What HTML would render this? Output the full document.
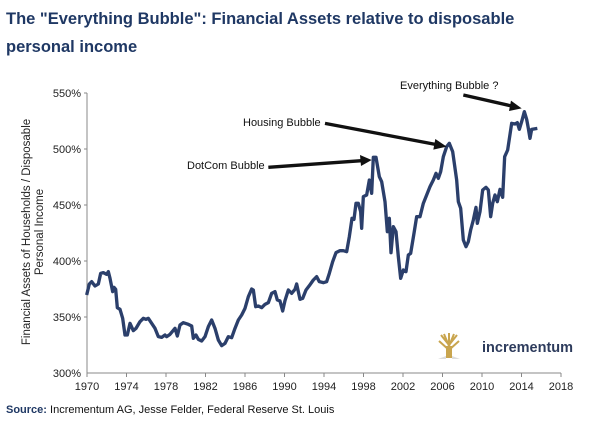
<!DOCTYPE html>
<html><head><meta charset="utf-8"><style>
body{margin:0;background:#fff;width:600px;height:418px;overflow:hidden;font-family:"Liberation Sans",Arial,sans-serif}
</style></head><body>
<svg width="600" height="418" xmlns="http://www.w3.org/2000/svg" font-family="Liberation Sans, Arial, sans-serif">
<text x="6" y="24" font-size="16.5" font-weight="bold" fill="#1f3864">The "Everything Bubble": Financial Assets relative to disposable</text>
<text x="6" y="52" font-size="16.5" font-weight="bold" fill="#1f3864">personal income</text>
<g stroke="#888" stroke-width="1">
<line x1="87" y1="93" x2="87" y2="373"/><line x1="87" y1="373" x2="561" y2="373"/>
<line x1="84" y1="93" x2="87" y2="93"/><line x1="84" y1="149" x2="87" y2="149"/><line x1="84" y1="205" x2="87" y2="205"/><line x1="84" y1="261" x2="87" y2="261"/><line x1="84" y1="317" x2="87" y2="317"/>
<line x1="87" y1="373" x2="87" y2="377"/><line x1="126.5" y1="373" x2="126.5" y2="377"/><line x1="166" y1="373" x2="166" y2="377"/><line x1="205.5" y1="373" x2="205.5" y2="377"/><line x1="245" y1="373" x2="245" y2="377"/><line x1="284.5" y1="373" x2="284.5" y2="377"/><line x1="324" y1="373" x2="324" y2="377"/><line x1="363.5" y1="373" x2="363.5" y2="377"/><line x1="403" y1="373" x2="403" y2="377"/><line x1="442.5" y1="373" x2="442.5" y2="377"/><line x1="482" y1="373" x2="482" y2="377"/><line x1="521.5" y1="373" x2="521.5" y2="377"/><line x1="561" y1="373" x2="561" y2="377"/>
</g>
<g font-size="11" fill="#222" text-anchor="end">
<text x="81" y="97">550%</text><text x="81" y="153">500%</text><text x="81" y="209">450%</text><text x="81" y="265">400%</text><text x="81" y="321">350%</text><text x="81" y="377">300%</text>
</g>
<g font-size="11" fill="#222" text-anchor="middle">
<text x="87" y="390">1970</text><text x="126.5" y="390">1974</text><text x="166" y="390">1978</text><text x="205.5" y="390">1982</text><text x="245" y="390">1986</text><text x="284.5" y="390">1990</text><text x="324" y="390">1994</text><text x="363.5" y="390">1998</text><text x="403" y="390">2002</text><text x="442.5" y="390">2006</text><text x="482" y="390">2010</text><text x="521.5" y="390">2014</text><text x="561" y="390">2018</text>
</g>
<g font-size="11.5" fill="#222" text-anchor="middle" transform="translate(30,232) rotate(-90)">
<text x="0" y="0">Financial Assets of Households / Disposable</text>
<text x="0" y="13">Personal Income</text>
</g>
<g transform="translate(60,80) scale(0.33333)">
<polyline fill="none" stroke="#2b3f6b" stroke-width="10" stroke-linejoin="round" points="80,645 88,612 95,605 105,618 115,612 122,580 130,578 140,583 145,575 150,595 158,635 162,622 167,628 172,683 180,688 188,715 195,765 202,765 210,730 220,752 228,745 240,725 250,715 258,718 265,715 275,730 285,745 295,770 305,772 315,765 320,770 330,763 345,745 352,768 360,735 370,728 385,733 395,738 400,775 408,765 415,778 425,783 435,770 445,740 455,720 465,745 475,780 485,797 495,790 505,770 515,773 525,745 535,720 545,705 555,685 565,650 575,627 580,630 587,680 595,678 605,683 615,673 625,668 635,640 645,635 652,660 660,663 668,693 675,662 685,630 695,640 705,628 710,612 720,658 728,655 738,630 748,617 760,600 770,590 778,605 790,608 800,605 808,580 818,545 828,518 840,512 850,512 860,515 868,470 876,415 882,418 888,370 895,370 902,395 905,445 910,350 920,345 928,300 935,340 940,232 948,232 958,290 965,305 975,365 982,455 988,415 993,518 1000,440 1008,455 1015,530 1022,595 1030,570 1038,575 1045,525 1052,520 1062,460 1070,410 1080,410 1090,370 1100,345 1110,320 1120,300 1128,280 1135,295 1142,275 1150,230 1160,200 1168,190 1178,215 1190,300 1195,365 1202,385 1210,480 1218,500 1225,485 1232,450 1240,420 1248,382 1252,430 1260,395 1268,330 1278,322 1285,330 1292,410 1298,370 1305,345 1312,365 1320,328 1328,352 1334,230 1343,210 1355,130 1365,132 1372,128 1378,148 1385,125 1393,95 1400,118 1405,145 1410,175 1415,148 1432,145"/>
<g stroke="#111" stroke-width="10" fill="#111">
<line x1="625" y1="262" x2="905" y2="242"/><polygon points="935,240 900,225 903,258" stroke="none"/>
<line x1="795" y1="130" x2="1130" y2="194"/><polygon points="1160,200 1126,177 1120,209" stroke="none"/>
<line x1="1210" y1="45" x2="1355" y2="78"/><polygon points="1385,85 1353,62 1347,93" stroke="none"/>
</g>
</g>
<g font-size="11" fill="#111">
<text x="187" y="169">DotCom Bubble</text>
<text x="243" y="126">Housing Bubble</text>
<text x="400" y="89">Everything Bubble ?</text>
</g>
<g>
<path d="M449 357 L449 344 M449 345 L441 335 M449 345 L457 335 M449 346 L444 334 M449 346 L454 334 M449 346 L449 333 M449 350 L439 341 M449 350 L459 341" stroke="#c9a54e" stroke-width="2" fill="none"/>
<rect x="446" y="346" width="6" height="12" fill="#c9a54e"/>
<path d="M438 359 L446 356 L446 359 Z M460 359 L452 356 L452 359 Z" fill="#ddd"/>
</g>
<text x="482" y="352" font-size="14.5" font-weight="bold" fill="#2d3b5c">incrementum</text>
<text x="6" y="413" font-size="11" fill="#111"><tspan font-weight="bold" fill="#1f3864">Source:</tspan> Incrementum AG, Jesse Felder, Federal Reserve St. Louis</text>
</svg>
</body></html>
